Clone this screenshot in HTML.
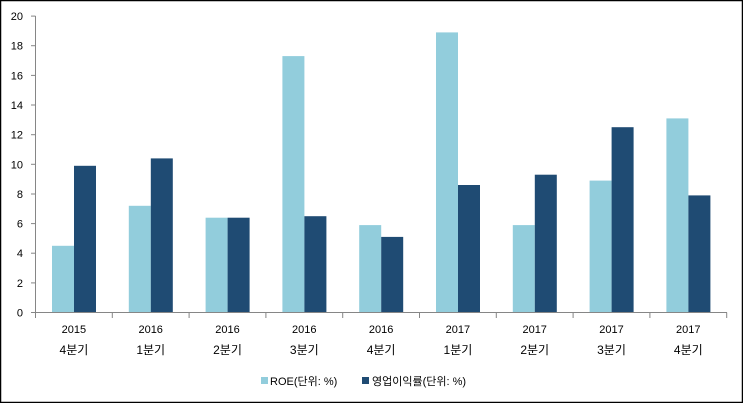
<!DOCTYPE html><html><head><meta charset="utf-8"><style>body{margin:0;background:#fff}svg{display:block}text{font-family:"Liberation Sans","Noto Sans CJK KR",sans-serif;font-size:11px;fill:#000}</style></head><body>
<svg width="743" height="403" xmlns="http://www.w3.org/2000/svg">
<rect x="0.5" y="0.5" width="742" height="402" fill="#fff" stroke="#000" stroke-width="1.5"/>
<g fill="#92cddc">
<rect x="52" y="245.8" width="22" height="66.7"/>
<rect x="128.8" y="205.8" width="22" height="106.7"/>
<rect x="205.6" y="217.7" width="22" height="94.8"/>
<rect x="282.4" y="56.1" width="22" height="256.4"/>
<rect x="359.2" y="225.1" width="22" height="87.4"/>
<rect x="436" y="32.4" width="22" height="280.1"/>
<rect x="512.8" y="225.1" width="22" height="87.4"/>
<rect x="589.6" y="180.6" width="22" height="131.9"/>
<rect x="666.4" y="118.4" width="22" height="194.1"/>
</g>
<g fill="#1f4b73">
<rect x="74" y="165.8" width="22" height="146.7"/>
<rect x="150.8" y="158.4" width="22" height="154.1"/>
<rect x="227.6" y="217.7" width="22" height="94.8"/>
<rect x="304.4" y="216.2" width="22" height="96.3"/>
<rect x="381.2" y="236.9" width="22" height="75.6"/>
<rect x="458" y="185" width="22" height="127.5"/>
<rect x="534.8" y="174.7" width="22" height="137.8"/>
<rect x="611.6" y="127.2" width="22" height="185.3"/>
<rect x="688.4" y="195.4" width="22" height="117.1"/>
</g>
<g stroke="#868686" stroke-width="1">
<line x1="35.5" y1="16" x2="35.5" y2="313"/>
<line x1="35.5" y1="312.5" x2="727" y2="312.5"/>
<line x1="35.5" y1="312.5" x2="35.5" y2="318"/><line x1="112.3" y1="312.5" x2="112.3" y2="318"/><line x1="189.1" y1="312.5" x2="189.1" y2="318"/><line x1="265.9" y1="312.5" x2="265.9" y2="318"/><line x1="342.7" y1="312.5" x2="342.7" y2="318"/><line x1="419.5" y1="312.5" x2="419.5" y2="318"/><line x1="496.3" y1="312.5" x2="496.3" y2="318"/><line x1="573.1" y1="312.5" x2="573.1" y2="318"/><line x1="649.9" y1="312.5" x2="649.9" y2="318"/><line x1="726.7" y1="312.5" x2="726.7" y2="318"/>
<line x1="31" y1="312.5" x2="35.5" y2="312.5"/><line x1="31" y1="282.9" x2="35.5" y2="282.9"/><line x1="31" y1="253.2" x2="35.5" y2="253.2"/><line x1="31" y1="223.6" x2="35.5" y2="223.6"/><line x1="31" y1="194" x2="35.5" y2="194"/><line x1="31" y1="164.3" x2="35.5" y2="164.3"/><line x1="31" y1="134.7" x2="35.5" y2="134.7"/><line x1="31" y1="105" x2="35.5" y2="105"/><line x1="31" y1="75.4" x2="35.5" y2="75.4"/><line x1="31" y1="45.7" x2="35.5" y2="45.7"/><line x1="31" y1="16.1" x2="35.5" y2="16.1"/>
</g>
<g text-anchor="end">
<text x="23" y="316.5">0</text><text x="23" y="286.9">2</text><text x="23" y="257.2">4</text><text x="23" y="227.6">6</text><text x="23" y="198">8</text><text x="23" y="168.3">10</text><text x="23" y="138.7">12</text><text x="23" y="109">14</text><text x="23" y="79.4">16</text><text x="23" y="49.7">18</text><text x="23" y="20.1">20</text>
</g>
<g text-anchor="middle">
<text x="73.9" y="333">2015</text><text x="150.7" y="333">2016</text><text x="227.5" y="333">2016</text><text x="304.3" y="333">2016</text><text x="381.1" y="333">2016</text><text x="457.9" y="333">2017</text><text x="534.7" y="333">2017</text><text x="611.5" y="333">2017</text><text x="688.3" y="333">2017</text>
</g>
<g text-anchor="middle" style="font-size:12px">
<text x="73.9" y="354" style="font-size:12px">4분기</text><text x="150.7" y="354" style="font-size:12px">1분기</text><text x="227.5" y="354" style="font-size:12px">2분기</text><text x="304.3" y="354" style="font-size:12px">3분기</text><text x="381.1" y="354" style="font-size:12px">4분기</text><text x="457.9" y="354" style="font-size:12px">1분기</text><text x="534.7" y="354" style="font-size:12px">2분기</text><text x="611.5" y="354" style="font-size:12px">3분기</text><text x="688.3" y="354" style="font-size:12px">4분기</text>
</g>
<rect x="261" y="377" width="7" height="7" fill="#92cddc"/>
<text x="270" y="385">ROE(단위: %)</text>
<rect x="362" y="377" width="7" height="7" fill="#1f4b73"/>
<text x="372" y="385">영업이익률(단위: %)</text>
</svg></body></html>
